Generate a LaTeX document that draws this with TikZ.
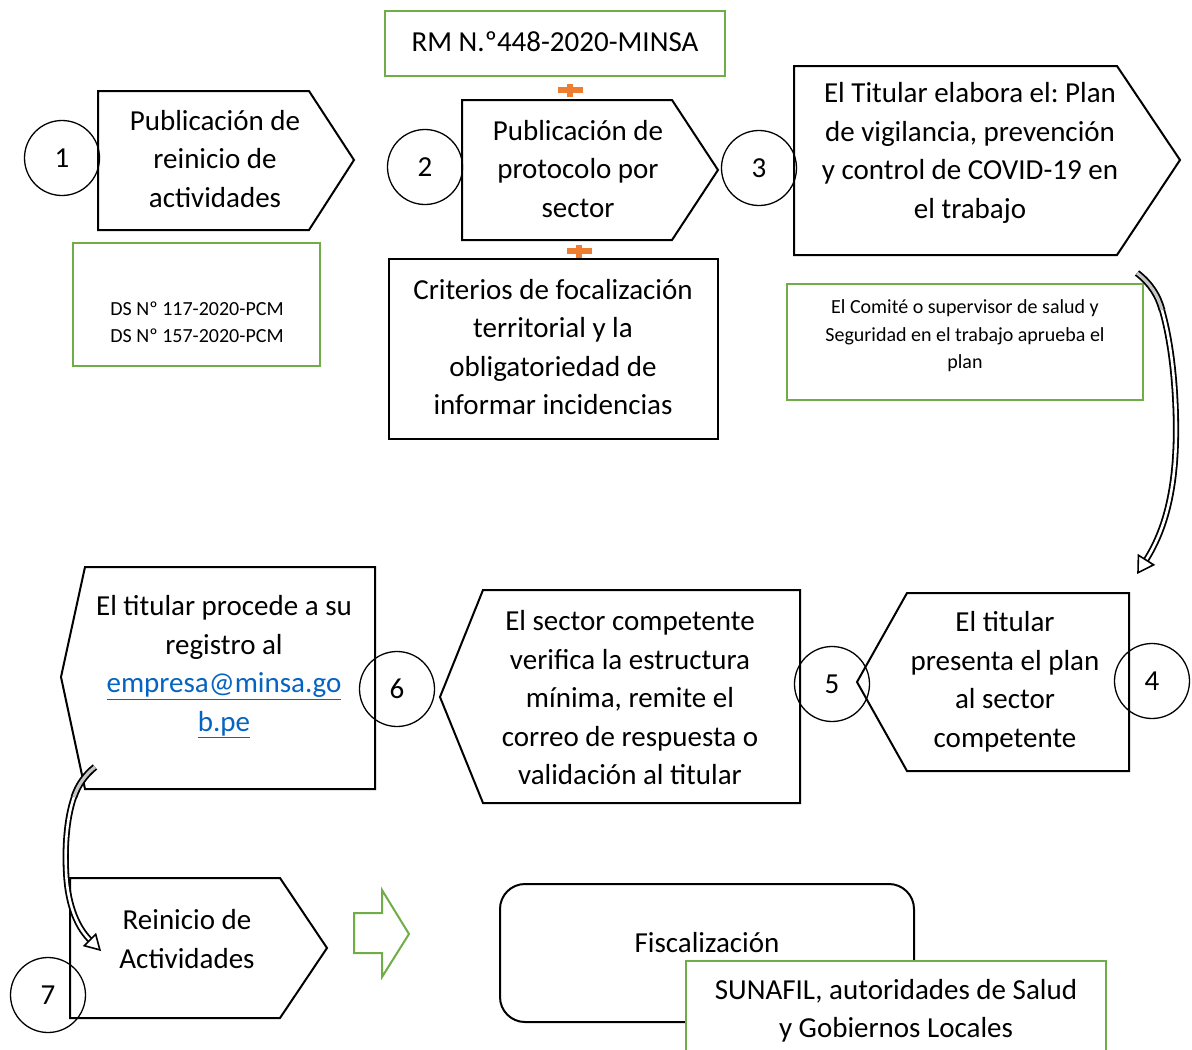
\documentclass[tikz,border=0pt]{standalone}
\usepackage{fontspec}
\setmainfont{Carlito}
\frenchspacing
\usetikzlibrary{calc}
\definecolor{grn}{HTML}{70AD47}
\definecolor{org}{HTML}{ED7D31}
\definecolor{lnk}{HTML}{0563C1}
\tikzset{
 box/.style={draw=black, line width=2pt, fill=white, line join=miter},
 gbox/.style={draw=grn, line width=2pt, fill=white},
 num/.style={draw=black, line width=1.3pt, circle, minimum size=75pt, inner sep=0pt, font=\fontsize{29}{35}\selectfont},
 big/.style={align=center, font=\fontsize{29}{38.5}\selectfont, inner sep=0pt},
 small/.style={align=center, font=\fontsize{20}{27.5}\selectfont, inner sep=0pt},
 band/.style={line width=1.8pt, double=white, double distance=2.6pt},
 bandg/.style={line width=1.8pt, double=gray!45, double distance=3.2pt},
 plusfill/.style={fill=org, draw=none},
 head/.style={draw=black, line width=1.6pt, fill=white, line join=miter},
}
\begin{document}
\begin{tikzpicture}[x=1pt,y=-1pt]
\useasboundingbox (0,0) rectangle (1192,1050);
\fill[white] (0,0) rectangle (1192,1050);
\begin{scope}
\clip (0,0) rectangle (1192,1050);
% ---------- row 1 ----------
\draw[box] (98,91) -- (309,91) -- (354,160) -- (309,230) -- (98,230) -- cycle;
\node[big] (t1) at (215,159) {Publicación de\\reinicio de\\actividades};

\draw[gbox] (73,243) rectangle (320,366);
\node[small] (ds) at (197,322) {DS Nº 117-2020-PCM\\DS Nº 157-2020-PCM};

\draw[gbox] (385,11) rectangle (725,76);
\node[big] (rm) at (555,42) {RM N.º448-2020-MINSA};

\fill[plusfill] (558,87) rectangle (583,93);
\fill[plusfill] (567,84) rectangle (573,97);

\draw[box] (462,100) -- (672,100) -- (718,170) -- (672,240) -- (462,240) -- cycle;
\node[big] (t2) at (578,169) {Publicación de\\protocolo por\\sector};

\fill[plusfill] (567,248) rectangle (592,254);
\fill[plusfill] (576,245) rectangle (582,258);

\draw[box] (389,259) rectangle (718,439);
\node[big] (crit) at (553,347) {Criterios de focalización\\territorial y la\\obligatoriedad de\\informar incidencias};

\draw[box] (794,66) -- (1117,66) -- (1180,160) -- (1117,255) -- (794,255) -- cycle;
\node[big] (t3) at (970,153) {El Titular elabora el: Plan\\de vigilancia, prevención\\y control de COVID-19 en\\el trabajo};

\draw[gbox] (787,284) rectangle (1143,400);
\node[small] (com) at (965,336) {El Comité o supervisor de salud y\\Seguridad en el trabajo aprueba el\\plan};

% ---------- row 2 ----------
\draw[box] (85,567) -- (375,567) -- (375,789) -- (85,789) -- (61,677) -- cycle;
\node[big] (t6) at (224,667) {El titular procede a su\\registro al\\{\color{lnk}\underline{empresa@minsa.go}}\\{\color{lnk}\underline{b.pe}}};

\draw[box] (483,590) -- (800,590) -- (800,803) -- (483,803) -- (440,697) -- cycle;
\node[big] (t5) at (630,698) {El sector competente\\verifica la estructura\\mínima, remite el\\correo de respuesta o\\validación al titular};

\draw[box] (907,593) -- (1129,593) -- (1129,771) -- (907,771) -- (857,682) -- cycle;
\node[big] (t4) at (1005,682) {El titular\\presenta el plan\\al sector\\competente};

% ---------- row 3 ----------
\draw[box] (70,878) -- (280,878) -- (327,948) -- (280,1018) -- (70,1018) -- cycle;
\node[big] (t7) at (187,939) {Reinicio de\\Actividades};

\draw[draw=grn, line width=2pt, line join=miter] (354,913) -- (382,913) -- (382,890) -- (409,934) -- (382,977) -- (382,953) -- (354,953) -- cycle;

\draw[box, rounded corners=25pt] (500,884) rectangle (914,1022);
\node[big] (fis) at (707,943) {Fiscalización};

\draw[gbox] (686,961) rectangle (1106,1070);
\node[big] (sun) at (896,1011) {SUNAFIL, autoridades de Salud\\y Gobiernos Locales};

% ---------- curved arrows ----------
\coordinate (a1s) at (1137,273);
\coordinate (a1m) at (1162,310);
\coordinate (a1e) at (1146,560);
\draw[bandg] (a1s) .. controls (1150,283) and (1158,295) .. (a1m);
\draw[band] (a1m) .. controls (1172,345) and (1176,390) .. (1176,430) .. controls (1176,490) and (1165,530) .. (a1e);
\draw[head] (1153.6,564.8) -- (1138,572.7) -- (1138.4,555.2) -- cycle;

\coordinate (a2s) at (95,767);
\coordinate (a2m) at (74,797);
\coordinate (a2e) at (90,940);
\draw[bandg] (a2s) .. controls (85,775) and (78,785) .. (a2m);
\draw[band] (a2m) .. controls (66,820) and (65,850) .. (66,870) .. controls (67,900) and (75,925) .. (a2e);
\draw[head] (95.7,934.3) -- (99.9,949.9) -- (84.3,945.7) -- cycle;

% ---------- number circles ----------
\node[num] (n1) at (62,158) {1};
\node[num] (n2) at (425,167) {2};
\node[num] (n3) at (759,168) {3};
\node[num] (n4) at (1152,681) {4};
\node[num] (n5) at (832,684) {5};
\node[num] (n6) at (397,689) {6};
\node[num] (n7) at (48,995) {7};
\end{scope}
\end{tikzpicture}
\end{document}
